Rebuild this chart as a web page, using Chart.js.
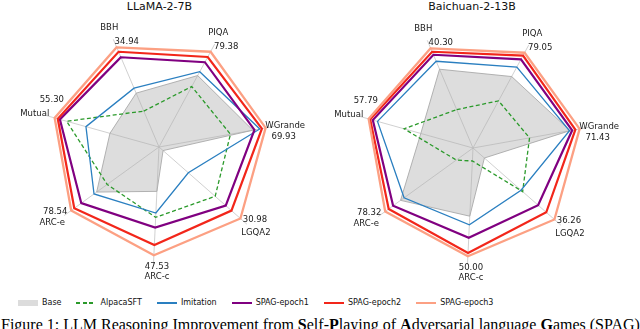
<!DOCTYPE html>
<html>
<head>
<meta charset="utf-8">
<script src="https://cdn.jsdelivr.net/npm/chart.js@4/dist/chart.umd.min.js"></script>
<style>
  html, body { margin: 0; padding: 0; background: #fff; }
  body { width: 640px; height: 329px; position: relative; overflow: hidden; font-family: "DejaVu Sans", sans-serif; }
  .title { position: absolute; top: 0; width: 200px; text-align: center; font-size: 11px; line-height: 13px; color: #111; }
  .chartbox { position: absolute; top: 0; width: 320px; height: 290px; }
  #legend { position: absolute; left: 18px; top: 298px; height: 10px; display: flex; align-items: center; font-size: 8px; line-height: 10px; color: #111; white-space: nowrap; }
  .item { display: flex; align-items: center; margin-right: 15px; }
  .h { width: 20px; margin-right: 4px; flex: 0 0 20px; }
  #caption { position: absolute; left: 1px; top: 315px; font-family: "Liberation Serif", "Times New Roman", serif; font-size: 16px; line-height: 20px; white-space: nowrap; color: #000; }
</style>
</head>
<body>
<div class="title" style="left:59.5px">LLaMA-2-7B</div>
<div class="title" style="left:372px">Baichuan-2-13B</div>
<div class="chartbox" style="left:0"><canvas id="c1" width="320" height="290"></canvas></div>
<div class="chartbox" style="left:320px"><canvas id="c2" width="320" height="290"></canvas></div>
<div id="legend"></div>
<div id="caption">Figure 1: LLM Reasoning Improvement from <b>S</b>elf-<b>P</b>laying of <b>A</b>dversarial language <b>G</b>ames (SPAG)</div>
<script>
// ---- data (radius as a fraction of the SPAG-epoch3 score on each axis) ----
const categories = ['BBH', 'PIQA', 'WGrande', 'LGQA2', 'ARC-c', 'ARC-e', 'Mutual'];
const seriesNames = ['Base', 'AlpacaSFT', 'Imitation', 'SPAG-epoch1', 'SPAG-epoch2', 'SPAG-epoch3'];

const llamaMaxLabels = ['34.94', '79.38', '69.93', '30.98', '47.53', '78.54', '55.30'];
const llamaBase      = [0.54, 0.75, 0.88, 0.05, 0.41, 0.71, 0.47];
const llamaAlpaca    = [0.36, 0.635, 0.67, 0.69, 0.65, 0.59, 0.885];
const llamaImitation = [0.59, 0.79, 0.945, 0.36, 0.61, 0.74, 0.70];
const llamaEpoch1    = [0.90, 0.89, 0.895, 0.82, 0.745, 0.885, 0.95];
const llamaEpoch2    = [0.955, 0.945, 0.965, 0.89, 0.905, 0.965, 0.97];
const llamaEpoch3    = [1, 1, 1, 1, 1, 1, 1];

const baichuanMaxLabels = ['40.30', '79.05', '71.43', '36.26', '50.00', '78.32', '57.79'];
const baichuanBase      = [0.79, 0.75, 0.91, 0.14, 0.63, 0.825, 0.50];
const baichuanAlpaca    = [0.385, 0.495, 0.53, 0.61, 0.12, 0.19, 0.66];
const baichuanImitation = [0.87, 0.85, 0.905, 0.59, 0.71, 0.785, 0.915];
const baichuanEpoch1    = [0.935, 0.93, 0.93, 0.80, 0.83, 0.91, 0.96];
const baichuanEpoch2    = [0.965, 0.97, 0.96, 0.90, 0.97, 0.96, 0.985];
const baichuanEpoch3    = [1, 1, 1, 1, 1, 1, 1];

// ---- styles ----
const styles = {
  'Base':        { borderColor: '#a9a9a9', backgroundColor: 'rgba(175,175,175,0.42)', borderWidth: 0.9, fill: true },
  'AlpacaSFT':   { borderColor: '#2b9a2b', borderWidth: 1.3, borderDash: [4, 2.5], fill: false },
  'Imitation':   { borderColor: '#2a7fc0', borderWidth: 1.3, fill: false },
  'SPAG-epoch1': { borderColor: '#800080', borderWidth: 2.2, fill: false },
  'SPAG-epoch2': { borderColor: '#f2261a', borderWidth: 2.2, fill: false },
  'SPAG-epoch3': { borderColor: '#fca083', borderWidth: 2.3, fill: false }
};

// label placement relative to each axis end: [nameDx, nameDy, valueDx, valueDy]
const labelOffsets = [
  [-4, -11.5, 13.5, 2.5],
  [3.5, -11.5, 11.5, 2.5],
  [11, -0.5, 9.5, 10],
  [9, 9, 8, -4],
  [3.5, 13, 3.5, 3],
  [-12, 7.5, -9, -3.5],
  [-11.5, -2, 5.5, -15.5]
];

const axisLabelPlugin = {
  id: 'axisLabels',
  afterDraw(chart, args, opts) {
    const scale = chart.scales.r;
    const ctx = chart.ctx;
    ctx.save();
    ctx.font = '8.5px "DejaVu Sans"';
    ctx.fillStyle = '#1a1a1a';
    ctx.textAlign = 'center';
    ctx.textBaseline = 'middle';
    const R = scale.getDistanceFromCenterForValue(scale.max);
    categories.forEach((name, i) => {
      const p = scale.getPointPosition(i, R);
      const o = labelOffsets[i];
      ctx.fillText(name, p.x + o[0], p.y + o[1]);
      ctx.fillText(opts.values[i], p.x + o[2], p.y + o[3]);
    });
    ctx.restore();
  }
};

function makeDatasets(seriesData) {
  // reversed so that the last series is drawn on top (Chart.js draws index 0 last)
  return seriesNames.map((name, k) => Object.assign({
    label: name,
    data: seriesData[k],
    pointRadius: 0,
    pointHoverRadius: 0,
    tension: 0
  }, styles[name])).reverse();
}

function makeChart(id, seriesData, maxLabels, padding) {
  return new Chart(document.getElementById(id), {
    type: 'radar',
    data: { labels: categories, datasets: makeDatasets(seriesData) },
    options: {
      responsive: false,
      animation: false,
      layout: { padding: padding },
      plugins: { legend: { display: false }, tooltip: { enabled: false }, axisLabels: { values: maxLabels } },
      scales: {
        r: {
          min: 0,
          max: 1.08,
          startAngle: -23,
          ticks: { display: false },
          grid: { display: false },
          angleLines: { display: true, color: '#c4c4c4', lineWidth: 0.8 },
          pointLabels: { display: false }
        }
      }
    },
    plugins: [axisLabelPlugin]
  });
}

makeChart('c1', [llamaBase, llamaAlpaca, llamaImitation, llamaEpoch1, llamaEpoch2, llamaEpoch3], llamaMaxLabels,
  { left: 42, right: 44, top: 30, bottom: 26 });
makeChart('c2', [baichuanBase, baichuanAlpaca, baichuanImitation, baichuanEpoch1, baichuanEpoch2, baichuanEpoch3], baichuanMaxLabels,
  { left: 36, right: 50, top: 31, bottom: 25 });

// ---- legend ----
const legend = document.getElementById('legend');
seriesNames.forEach(name => {
  const s = styles[name];
  const item = document.createElement('div');
  item.className = 'item';
  const h = document.createElement('div');
  h.className = 'h';
  if (name === 'Base') {
    h.style.height = '6px';
    h.style.background = '#dcdcdc';
  } else if (s.borderDash) {
    h.style.height = '1.5px';
    h.style.background = 'repeating-linear-gradient(to right, ' + s.borderColor + ' 0px, ' + s.borderColor + ' 4px, #fff 4px, #fff 6.5px)';
  } else {
    h.style.height = '2px';
    h.style.background = s.borderColor;
  }
  const t = document.createElement('span');
  t.textContent = name;
  item.appendChild(h);
  item.appendChild(t);
  legend.appendChild(item);
});
</script>
</body>
</html>
